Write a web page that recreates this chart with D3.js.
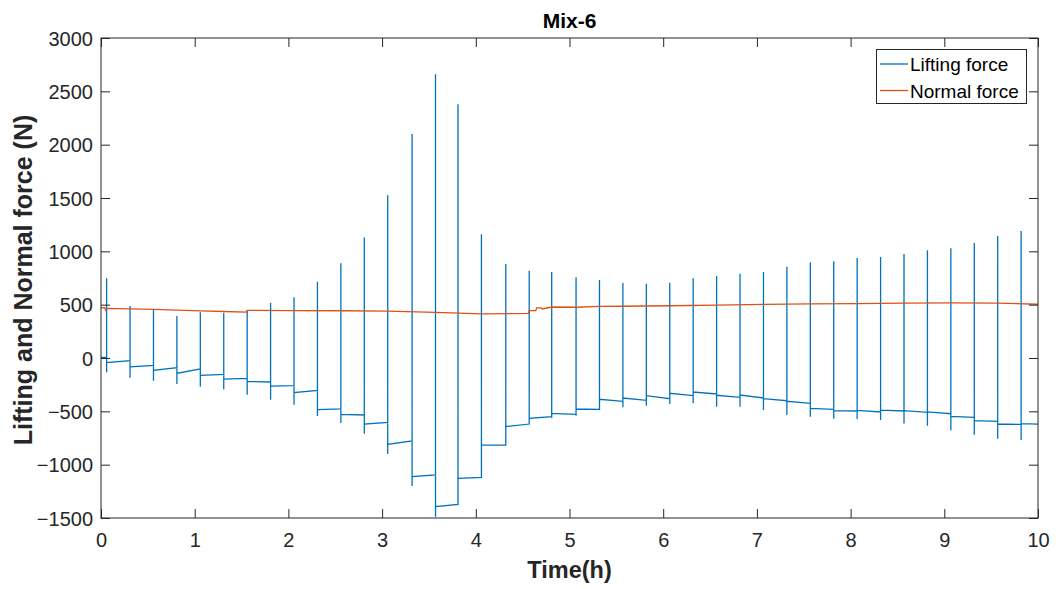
<!DOCTYPE html>
<html>
<head>
<meta charset="utf-8">
<script src="https://cdn.jsdelivr.net/npm/d3@7"></script>
<style>
  html, body { margin: 0; padding: 0; background: #fff; }
  svg { display: block; font-family: "Liberation Sans", Arial, sans-serif; }
</style>
</head>
<body>
<svg id="chart" width="1056" height="589"></svg>
<script>
// ---------------- DATA ----------------
const title = "Mix-6";
const xLabel = "Time(h)";
const yLabel = "Lifting and Normal force (N)";
const seriesNames = ["Lifting force", "Normal force"];

const xTicks = [0, 1, 2, 3, 4, 5, 6, 7, 8, 9, 10];
const yTicks = [-1500, -1000, -500, 0, 500, 1000, 1500, 2000, 2500, 3000];

// Lifting force: initial level, then at each loading time a spike (top, bottom),
// followed by a plateau (value just after the spike, value just before the next one)
const liftInitial = [5, 5];
const spikeTimes = [0.06, 0.31, 0.56, 0.81, 1.06, 1.31, 1.56, 1.81, 2.06, 2.31,
                    2.56, 2.81, 3.06, 3.32, 3.57, 3.81, 4.06, 4.32, 4.57, 4.81,
                    5.07, 5.32, 5.57, 5.82, 6.07, 6.32, 6.57, 6.82, 7.07, 7.32,
                    7.57, 7.82, 8.07, 8.32, 8.57, 8.82, 9.07, 9.32, 9.57, 9.82];
const spikeTop = [747, 487, 459, 394, 430, 425, 445, 519, 569, 716,
                  888, 1130, 1525, 2100, 2659, 2378, 1159, 881, 819, 806,
                  756, 731, 703, 697, 706, 747, 769, 791, 806, 856,
                  897, 906, 938, 947, 975, 1009, 1028, 1078, 1144, 1191];
const spikeBottom = [-134, -184, -213, -244, -269, -294, -344, -391, -438, -544,
                     -610, -710, -900, -1200, -1488, -1200, -869, -816, -622, -566,
                     -541, -490, -462, -447, -431, -425, -456, -456, -487, -534,
                     -550, -569, -572, -581, -613, -634, -678, -719, -756, -769];
const plateauStart = [-44, -84, -116, -144, -163, -197, -219, -263, -325, -484,
                      -528, -620, -809, -1112, -1394, -1128, -816, -644, -566, -519,
                      -478, -387, -375, -353, -331, -319, -350, -347, -381, -406,
                      -472, -494, -491, -488, -494, -506, -547, -588, -619, -616];
const plateauEnd = [-25, -69, -91, -103, -153, -191, -225, -259, -303, -478,
                    -534, -603, -778, -1097, -1372, -1119, -816, -619, -550, -528,
                    -481, -406, -397, -381, -353, -337, -369, -375, -400, -425,
                    -481, -497, -506, -497, -509, -522, -556, -594, -622, -619];
const endTime = 10;

// Normal force
const normalTimes = [0, 0.04, 0.05, 0.06, 0.31, 0.56, 0.81, 1.06, 1.31, 1.55, 1.56,
                     2.06, 2.56, 3.06, 3.57, 4.06, 4.56, 4.57, 4.64, 4.65, 4.70, 4.71,
                     4.81, 5.07, 5.32, 5.57, 6.07, 6.57, 7.07, 7.57, 8.07, 8.57,
                     9.07, 9.57, 10];
const normalValues = [470, 472, 448, 466, 460, 455, 449, 442, 436, 430, 446,
                      445, 443, 439, 428, 414, 418, 444, 444, 470, 470, 460,
                      478, 476, 484, 485, 490, 496, 502, 508, 510, 514,
                      516, 514, 504];

// ---------------- LAYOUT ----------------
const W = 1056, H = 589;
const plot = { left: 101, right: 1038, top: 38, bottom: 518 };
const axisColor = "#262626";
const blue = "#0072BD", orange = "#D95319";

const svg = d3.select("#chart");
svg.append("rect").attr("width", W).attr("height", H).attr("fill", "#fff");

const x = d3.scaleLinear().domain([0, 10]).range([plot.left, plot.right]);
const y = d3.scaleLinear().domain([-1500, 3000]).range([plot.bottom, plot.top]);

// build lifting series points from the arrays
const liftPts = [[0, liftInitial[0]], [spikeTimes[0], liftInitial[1]]];
spikeTimes.forEach((t, i) => {
  liftPts.push([t, spikeTop[i]]);
  liftPts.push([t, spikeBottom[i]]);
  liftPts.push([t, plateauStart[i]]);
  const tNext = i + 1 < spikeTimes.length ? spikeTimes[i + 1] : endTime;
  liftPts.push([tNext, plateauEnd[i]]);
});
const normalPts = normalTimes.map((t, i) => [t, normalValues[i]]);

const line = d3.line().x(d => x(d[0])).y(d => y(d[1]));

const clipId = "plotclip";
svg.append("clipPath").attr("id", clipId).append("rect")
  .attr("x", plot.left).attr("y", plot.top)
  .attr("width", plot.right - plot.left).attr("height", plot.bottom - plot.top);

const g = svg.append("g").attr("clip-path", `url(#${clipId})`);
g.append("path").datum(liftPts).attr("d", line)
  .attr("fill", "none").attr("stroke", blue).attr("stroke-width", 1.3)
  .attr("stroke-linejoin", "miter");
g.append("path").datum(normalPts).attr("d", line)
  .attr("fill", "none").attr("stroke", orange).attr("stroke-width", 1.3);

// ---------------- AXES (MATLAB style box with inward ticks) ----------------
const tickLen = 9;
const axisG = svg.append("g");

const axBottom = d3.axisBottom(x).tickValues(xTicks).tickSize(-tickLen).tickPadding(0).tickFormat(d3.format("d"));
const axTop = d3.axisTop(x).tickValues(xTicks).tickSize(-tickLen).tickFormat("");
const axLeft = d3.axisLeft(y).tickValues(yTicks).tickSize(-tickLen).tickFormat(d3.format("d"));
const axRight = d3.axisRight(y).tickValues(yTicks).tickSize(-tickLen).tickFormat("");

function style(sel) {
  sel.select(".domain").remove();
  sel.selectAll(".tick line").attr("stroke", axisColor).attr("stroke-width", 1);
  sel.selectAll("text").attr("fill", axisColor).attr("font-size", 20)
    .attr("font-family", "Liberation Sans, Arial, sans-serif");
}
const gb = axisG.append("g").attr("transform", `translate(0,${plot.bottom})`).call(axBottom).call(style);
gb.selectAll(".tick text").attr("y", 29).attr("dy", 0);
const gt = axisG.append("g").attr("transform", `translate(0,${plot.top})`).call(axTop).call(style);
const gl = axisG.append("g").attr("transform", `translate(${plot.left},0)`).call(axLeft).call(style);
gl.selectAll(".tick text").attr("x", -8).attr("dy", "0.35em");
const gr = axisG.append("g").attr("transform", `translate(${plot.right},0)`).call(axRight).call(style);

// box
axisG.append("rect")
  .attr("x", plot.left).attr("y", plot.top)
  .attr("width", plot.right - plot.left).attr("height", plot.bottom - plot.top)
  .attr("fill", "none").attr("stroke", axisColor).attr("stroke-width", 1);

// ---------------- LABELS ----------------
svg.append("text").attr("x", (plot.left + plot.right) / 2).attr("y", 28)
  .attr("text-anchor", "middle").attr("font-weight", "bold").attr("font-size", 21)
  .attr("fill", "#000").text(title);

svg.append("text").attr("x", (plot.left + plot.right) / 2).attr("y", 578)
  .attr("text-anchor", "middle").attr("font-weight", "bold").attr("font-size", 23.5)
  .attr("fill", axisColor).text(xLabel);

svg.append("text")
  .attr("transform", `translate(32,${(plot.top + plot.bottom) / 2 + 2}) rotate(-90)`)
  .attr("text-anchor", "middle").attr("font-weight", "bold").attr("font-size", 25)
  .attr("fill", axisColor).text(yLabel);

// ---------------- LEGEND ----------------
const lg = svg.append("g");
lg.append("rect").attr("x", 876.5).attr("y", 49.5).attr("width", 150).attr("height", 54)
  .attr("fill", "#fff").attr("stroke", axisColor).attr("stroke-width", 1);
const legendColors = [blue, orange];
seriesNames.forEach((name, i) => {
  const yy = 64 + i * 26.5;
  lg.append("line").attr("x1", 880).attr("x2", 908).attr("y1", yy).attr("y2", yy)
    .attr("stroke", legendColors[i]).attr("stroke-width", 1.3);
  lg.append("text").attr("x", 910).attr("y", yy + 7)
    .attr("font-size", 19).attr("fill", "#000").text(name);
});
</script>
</body>
</html>
